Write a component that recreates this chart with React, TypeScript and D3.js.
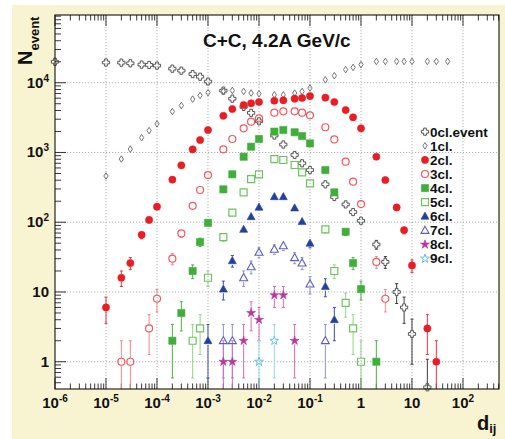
import React from "react";
import * as d3 from "d3";

// ---- data: d_ij bin positions and event counts per cluster multiplicity ----
const x0cl = [1e-6, 1e-5, 2e-5, 3e-5, 5e-5, 7e-5, 1e-4, 2e-4, 3e-4, 5e-4, 7e-4, 1e-3, 2e-3, 3e-3, 5e-3, 7e-3, 1e-2, 2e-2, 3e-2, 5e-2, 7e-2, 0.1, 0.2, 0.3, 0.5, 0.7, 1, 2, 3, 5, 7, 10, 20];
const n0cl = [20000, 19500, 19400, 19000, 18200, 18000, 17600, 15900, 14900, 13300, 12200, 10400, 7700, 5900, 4500, 3700, 2800, 1750, 1300, 920, 700, 560, 350, 230, 180, 140, 105, 48, 27, 10, 6, 2.5, 0.43];

const x1cl = [1e-5, 2e-5, 3e-5, 5e-5, 7e-5, 1e-4, 2e-4, 3e-4, 5e-4, 7e-4, 1e-3, 2e-3, 3e-3, 5e-3, 7e-3, 1e-2, 2e-2, 3e-2, 5e-2, 7e-2, 0.1, 0.2, 0.3, 0.5, 0.7, 1, 2, 3, 5, 7, 10, 20, 30, 50];
const n1cl = [460, 805, 1120, 1630, 2060, 2570, 3860, 4710, 5820, 6560, 7200, 7500, 7740, 7500, 7110, 6950, 6710, 6710, 7110, 7500, 8400, 11000, 12600, 15400, 16600, 18200, 20200, 20200, 20200, 20200, 20200, 20200, 20200, 20200];

const x2cl = [1e-5, 2e-5, 3e-5, 5e-5, 7e-5, 1e-4, 2e-4, 3e-4, 5e-4, 7e-4, 1e-3, 2e-3, 3e-3, 5e-3, 7e-3, 1e-2, 2e-2, 3e-2, 5e-2, 7e-2, 0.1, 0.2, 0.3, 0.5, 0.7, 1, 2, 3, 5, 7, 10, 20, 30];
const n2cl = [6, 16, 26, 66, 108, 167, 407, 655, 1110, 1510, 2100, 3360, 4200, 4790, 5070, 5290, 5520, 5600, 5900, 6040, 6440, 6100, 5290, 4060, 3190, 2220, 869, 403, 163, 77, 24, 3, 1];

const x3cl = [2e-5, 3e-5, 7e-5, 1e-4, 2e-4, 3e-4, 5e-4, 7e-4, 1e-3, 2e-3, 3e-3, 5e-3, 7e-3, 1e-2, 2e-2, 3e-2, 5e-2, 7e-2, 0.1, 0.2, 0.3, 0.5, 0.7, 1, 2, 3];
const n3cl = [1, 1, 3, 8, 30, 69, 172, 290, 475, 1110, 1560, 2220, 2760, 3090, 3720, 3890, 3890, 3720, 3410, 2300, 1540, 737, 381, 182, 27, 8];

const x4cl = [2e-4, 3e-4, 5e-4, 7e-4, 1e-3, 2e-3, 3e-3, 5e-3, 7e-3, 1e-2, 2e-2, 3e-2, 5e-2, 7e-2, 0.1, 0.2, 0.3, 0.5, 0.7, 1, 2];
const n4cl = [2, 5, 20, 52, 98, 296, 486, 869, 1210, 1560, 1990, 2100, 1950, 1720, 1350, 560, 268, 73, 26, 11, 1];

const x5cl = [5e-4, 7e-4, 1e-3, 2e-3, 3e-3, 5e-3, 7e-3, 1e-2, 2e-2, 3e-2, 5e-2, 7e-2, 0.1, 0.2, 0.3, 0.5, 0.7, 1];
const n5cl = [2, 3, 16, 61, 137, 268, 416, 486, 805, 780, 661, 519, 361, 79, 20, 7, 3, 1];

const x6cl = [1e-3, 2e-3, 3e-3, 5e-3, 7e-3, 1e-2, 2e-2, 3e-2, 5e-2, 7e-2, 0.1, 0.2, 0.3];
const n6cl = [2, 11, 28, 79, 120, 164, 232, 232, 160, 102, 50, 12, 4];

const x7cl = [2e-3, 3e-3, 5e-3, 7e-3, 1e-2, 2e-2, 3e-2, 5e-2, 7e-2, 0.1, 0.2];
const n7cl = [2, 2, 16, 23, 37, 41, 46, 31, 26, 13, 2];

const x8cl = [2e-3, 3e-3, 5e-3, 7e-3, 1e-2, 2e-2, 3e-2, 5e-2];
const n8cl = [1, 1, 2, 5, 4, 9, 9, 2];

const x9cl = [1e-2, 2e-2];
const n9cl = [1, 2];

const seriesNames = ["0cl.event", "1cl.", "2cl.", "3cl.", "4cl.", "5cl.", "6cl.", "7cl.", "8cl.", "9cl."];

const xTickExps = [-6, -5, -4, -3, -2, -1, 0, 1, 2];
const yTickExps = [0, 1, 2, 3, 4];

const titleText = "C+C, 4.2A GeV/c";

// ---- layout ----
const W = 505;
const H = 439;
const L = 55;
const R = 499;
const T = 15;
const B = 389;
const FONT = "'Liberation Sans', Arial, Helvetica, sans-serif";

const xScale = d3.scaleLog().domain([1e-6, Math.pow(10, 2.706)]).range([L, R]);
const yScale = d3.scaleLog().domain([Math.pow(10, -0.391), Math.pow(10, 4.971)]).range([B, T]);

type Shape = "openCross" | "openDiamond" | "circle" | "square" | "triangle" | "star";

interface Style {
  shape: Shape;
  filled: boolean;
  color: string;
  errColor: string;
  size: number; // half-extent in px
  sw: number;
}

const styles: Style[] = [
  { shape: "openCross", filled: false, color: "#555", errColor: "#3a3a3a", size: 3.6, sw: 1.0 },
  { shape: "openDiamond", filled: false, color: "#666", errColor: "#555", size: 3.3, sw: 0.9 },
  { shape: "circle", filled: true, color: "#ea1c24", errColor: "#e8333a", size: 3.6, sw: 0.6 },
  { shape: "circle", filled: false, color: "#f0585d", errColor: "#f2888b", size: 3.5, sw: 1.2 },
  { shape: "square", filled: true, color: "#3fae3a", errColor: "#4cb246", size: 3.6, sw: 0.6 },
  { shape: "square", filled: false, color: "#6cc45d", errColor: "#92d384", size: 3.5, sw: 1.2 },
  { shape: "triangle", filled: true, color: "#23409e", errColor: "#3a4fa6", size: 4.2, sw: 0.6 },
  { shape: "triangle", filled: false, color: "#5a5fc0", errColor: "#8e92d0", size: 4.2, sw: 1.1 },
  { shape: "star", filled: true, color: "#b8389c", errColor: "#d26bbb", size: 3.6, sw: 0.6 },
  { shape: "star", filled: false, color: "#5ec4e2", errColor: "#90d8ef", size: 3.6, sw: 1.0 },
];

const xsAll = [x0cl, x1cl, x2cl, x3cl, x4cl, x5cl, x6cl, x7cl, x8cl, x9cl];
const nsAll = [n0cl, n1cl, n2cl, n3cl, n4cl, n5cl, n6cl, n7cl, n8cl, n9cl];

const series = seriesNames.map((name, i) => ({
  name,
  style: styles[i],
  points: xsAll[i].map((x, j) => ({ x, n: nsAll[i][j] })),
}));

function markerPath(shape: Shape, s: number): string {
  switch (shape) {
    case "openCross": {
      const a = s * 0.38;
      return `M${-a},${-s}L${a},${-s}L${a},${-a}L${s},${-a}L${s},${a}L${a},${a}L${a},${s}L${-a},${s}L${-a},${a}L${-s},${a}L${-s},${-a}L${-a},${-a}Z`;
    }
    case "openDiamond":
      return `M0,${-s}L${s * 0.65},0L0,${s}L${-s * 0.65},0Z`;
    case "circle":
      return d3.symbol(d3.symbolCircle, Math.PI * s * s)() as string;
    case "square":
      return `M${-s},${-s}H${s}V${s}H${-s}Z`;
    case "triangle":
      return `M0,${-s}L${s * 0.95},${s * 0.7}L${-s * 0.95},${s * 0.7}Z`;
    case "star":
      return d3.symbol(d3.symbolStar, s * s * 1.9)() as string;
  }
}

function Marker({ st, cx, cy }: { st: Style; cx: number; cy: number }) {
  return (
    <path
      d={markerPath(st.shape, st.size)}
      transform={`translate(${cx},${cy})`}
      fill={st.filled ? st.color : "none"}
      stroke={st.color}
      strokeWidth={st.sw}
    />
  );
}

function SupLabel({ exp, x, y, anchor }: { exp: number; x: number; y: number; anchor: "middle" | "end" }) {
  if (exp === 0) return <text x={x} y={y} textAnchor={anchor}>1</text>;
  if (exp === 1) return <text x={x} y={y} textAnchor={anchor}>10</text>;
  return (
    <text x={x} y={y} textAnchor={anchor}>
      10
      <tspan dy={-6} fontSize={10}>{String(exp)}</tspan>
    </text>
  );
}

export default function App() {
  const [x0, x1] = xScale.domain();
  const [y0, y1] = yScale.domain();

  // minor/major tick positions for log axes
  const xMinor: number[] = [];
  for (let e = -6; e <= 2; e++) for (let m = 2; m <= 9; m++) {
    const v = m * Math.pow(10, e);
    if (v > x0 && v < x1) xMinor.push(v);
  }
  const yMinor: number[] = [];
  for (let e = -1; e <= 4; e++) for (let m = 2; m <= 9; m++) {
    const v = m * Math.pow(10, e);
    if (v > y0 && v < y1) yMinor.push(v);
  }
  const xMajor = xTickExps.map((e) => Math.pow(10, e));
  const yMajor = yTickExps.map((e) => Math.pow(10, e));

  const legendX = 425;
  const legendY0 = 131.7;
  const legendDy = 14.1;

  return (
    <svg width={W} height={H} style={{ position: "absolute", left: 0, top: 0 }} fontFamily={FONT}>
      <rect x={0} y={0} width={W} height={H} fill="#ffffff" />
      <rect x={12} y={5} width={W - 12} height={H - 5} fill="#f8f4d2" />
      <rect x={L} y={T} width={R - L} height={B - T} fill="#ffffff" />

      {/* grid */}
      <g stroke="#9a9a9a" strokeWidth={0.8} strokeDasharray="1.2,1.8">
        {xMajor.filter((v) => v > x0).map((v) => (
          <line key={"gx" + v} x1={xScale(v)} x2={xScale(v)} y1={T} y2={B} />
        ))}
        {yMajor.map((v) => (
          <line key={"gy" + v} x1={L} x2={R} y1={yScale(v)} y2={yScale(v)} />
        ))}
      </g>

      {/* ticks */}
      <g stroke="#222" strokeWidth={0.9}>
        {xMajor.map((v) => (
          <g key={"tx" + v}>
            <line x1={xScale(v)} x2={xScale(v)} y1={B} y2={B - 11} />
            <line x1={xScale(v)} x2={xScale(v)} y1={T} y2={T + 11} />
          </g>
        ))}
        {xMinor.map((v) => (
          <g key={"mx" + v}>
            <line x1={xScale(v)} x2={xScale(v)} y1={B} y2={B - 5.5} />
            <line x1={xScale(v)} x2={xScale(v)} y1={T} y2={T + 5.5} />
          </g>
        ))}
        {yMajor.map((v) => (
          <line key={"ty" + v} x1={L} x2={L + 11} y1={yScale(v)} y2={yScale(v)} />
        ))}
        {yMinor.map((v) => (
          <line key={"my" + v} x1={L} x2={L + 6} y1={yScale(v)} y2={yScale(v)} />
        ))}
      </g>

      {/* statistical error bars, sqrt(N) */}
      <g>
        {series.map((s) =>
          s.points.map((p, j) => {
            const err = Math.sqrt(p.n);
            const cx = xScale(p.x);
            const cy = yScale(p.n);
            const hi = p.n + err > y1 ? T : yScale(p.n + err);
            const lo = p.n - err > y0 ? yScale(p.n - err) : B;
            const r = s.style.size;
            const up = cy - r > hi;
            const down = lo > cy + r;
            return (
              <g key={s.name + j} stroke={s.style.errColor} strokeWidth={1}>
                {up && <line x1={cx} x2={cx} y1={hi} y2={cy - r} />}
                {down && <line x1={cx} x2={cx} y1={cy + r} y2={lo} />}
                {up && <line x1={cx - 1.5} x2={cx + 1.5} y1={hi} y2={hi} />}
                {down && lo < B && <line x1={cx - 1.5} x2={cx + 1.5} y1={lo} y2={lo} />}
              </g>
            );
          })
        )}
      </g>

      {/* markers */}
      <g>
        {series.map((s) =>
          s.points.map((p, j) => <Marker key={s.name + "m" + j} st={s.style} cx={xScale(p.x)} cy={yScale(p.n)} />)
        )}
      </g>

      {/* frame */}
      <rect x={L} y={T} width={R - L} height={B - T} fill="none" stroke="#111" strokeWidth={1.1} />

      {/* axis labels */}
      <g fontSize={15} fontWeight="bold" fill="#111">
        {xTickExps.map((e) => (
          <SupLabel key={"lx" + e} exp={e} x={xScale(Math.pow(10, e))} y={408} anchor="middle" />
        ))}
        {yTickExps.map((e) => (
          <SupLabel key={"ly" + e} exp={e} x={49} y={yScale(Math.pow(10, e)) + 5} anchor="end" />
        ))}
      </g>

      {/* axis titles */}
      <text transform="translate(32,65) rotate(-90)" fontWeight="bold" fill="#111" fontSize={20}>
        N<tspan fontSize={13} dy={7}>event</tspan>
      </text>
      <text x={477} y={430} fontWeight="bold" fill="#111" fontSize={20}>
        d<tspan fontSize={13} dy={3}>ij</tspan>
      </text>

      {/* title */}
      <text x={203} y={47} fontWeight="bold" fontSize={19} fill="#111">{titleText}</text>

      {/* legend */}
      <g>
        {series.map((s, i) => {
          const cy = legendY0 + i * legendDy;
          return (
            <g key={"lg" + s.name}>
              <Marker st={s.style} cx={legendX} cy={cy} />
              <text x={legendX + 5} y={cy + 4.8} fontSize={13.5} fontWeight="bold" fill="#111">
                {s.name}
              </text>
            </g>
          );
        })}
      </g>
    </svg>
  );
}
